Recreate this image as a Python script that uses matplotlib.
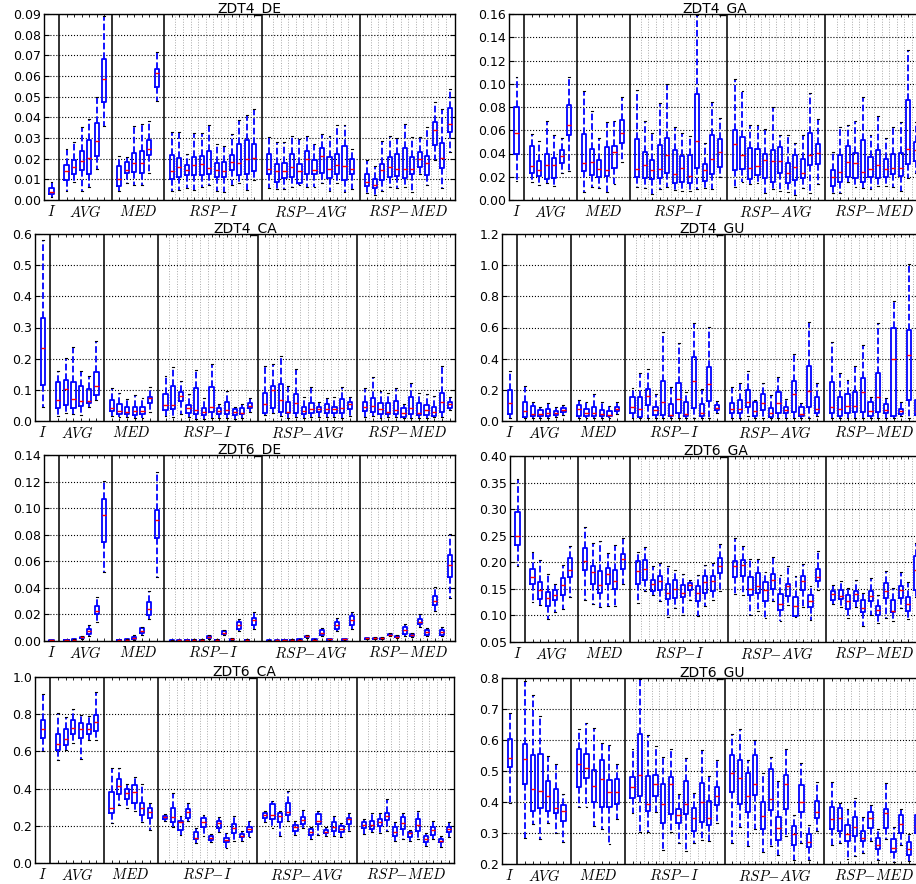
import numpy as np
import matplotlib
matplotlib.use('Agg')
import matplotlib.pyplot as plt

plt.rcParams['font.family'] = ['DejaVu Sans']
plt.rcParams['mathtext.fontset'] = 'cm'

# box statistics: [whislo, q1, median, q3, whishi]
# order: I (1), AVG (6), MED (6), RSP-I (12), RSP-AVG (12), RSP-MED (12)
zdt4_de = [
    [0.0016, 0.0027, 0.0040, 0.0056, 0.0088],
    [0.0045, 0.0096, 0.0138, 0.0168, 0.0245], [0.0088, 0.0125, 0.0159, 0.0195, 0.0280],
    [0.0045, 0.0143, 0.0190, 0.0237, 0.0353], [0.0064, 0.0128, 0.0205, 0.0292, 0.0393],
    [0.0152, 0.0215, 0.0287, 0.0373, 0.0497], [0.0360, 0.0476, 0.0585, 0.0680, 0.0890],
    [0.0045, 0.0067, 0.0104, 0.0163, 0.0213], [0.0080, 0.0131, 0.0147, 0.0184, 0.0210],
    [0.0075, 0.0136, 0.0180, 0.0228, 0.0356], [0.0075, 0.0131, 0.0181, 0.0237, 0.0369],
    [0.0133, 0.0216, 0.0248, 0.0288, 0.0380], [0.0480, 0.0548, 0.0614, 0.0633, 0.0715],
    [0.0045, 0.0104, 0.0141, 0.0220, 0.0327], [0.0048, 0.0112, 0.0160, 0.0202, 0.0330],
    [0.0056, 0.0120, 0.0147, 0.0171, 0.0221], [0.0048, 0.0120, 0.0167, 0.0208, 0.0325],
    [0.0064, 0.0120, 0.0176, 0.0212, 0.0325], [0.0072, 0.0125, 0.0157, 0.0237, 0.0365],
    [0.0045, 0.0112, 0.0144, 0.0181, 0.0272], [0.0040, 0.0112, 0.0141, 0.0184, 0.0263],
    [0.0072, 0.0144, 0.0186, 0.0220, 0.0320], [0.0083, 0.0120, 0.0180, 0.0272, 0.0388],
    [0.0048, 0.0125, 0.0199, 0.0288, 0.0409], [0.0096, 0.0139, 0.0202, 0.0272, 0.0439],
    [0.0056, 0.0128, 0.0152, 0.0224, 0.0304], [0.0051, 0.0085, 0.0138, 0.0176, 0.0280],
    [0.0051, 0.0107, 0.0138, 0.0181, 0.0280], [0.0064, 0.0112, 0.0160, 0.0221, 0.0308],
    [0.0075, 0.0080, 0.0138, 0.0176, 0.0296], [0.0064, 0.0128, 0.0197, 0.0236, 0.0311],
    [0.0064, 0.0128, 0.0144, 0.0192, 0.0272], [0.0080, 0.0131, 0.0212, 0.0252, 0.0317],
    [0.0045, 0.0107, 0.0152, 0.0208, 0.0309], [0.0080, 0.0128, 0.0167, 0.0224, 0.0361],
    [0.0037, 0.0099, 0.0165, 0.0261, 0.0364], [0.0051, 0.0125, 0.0152, 0.0200, 0.0248],
    [0.0035, 0.0069, 0.0088, 0.0125, 0.0192], [0.0024, 0.0056, 0.0075, 0.0104, 0.0163],
    [0.0045, 0.0096, 0.0146, 0.0176, 0.0284], [0.0064, 0.0112, 0.0160, 0.0208, 0.0312],
    [0.0056, 0.0117, 0.0152, 0.0224, 0.0301], [0.0064, 0.0107, 0.0149, 0.0253, 0.0369],
    [0.0040, 0.0128, 0.0152, 0.0208, 0.0304], [0.0125, 0.0160, 0.0196, 0.0232, 0.0304],
    [0.0075, 0.0120, 0.0181, 0.0212, 0.0353], [0.0192, 0.0268, 0.0337, 0.0377, 0.0476],
    [0.0056, 0.0155, 0.0205, 0.0276, 0.0441], [0.0232, 0.0329, 0.0369, 0.0446, 0.0537],
]

zdt4_ga = [
    [0.0160, 0.0399, 0.0575, 0.0803, 0.1060],
    [0.0157, 0.0233, 0.0296, 0.0461, 0.0570], [0.0128, 0.0205, 0.0256, 0.0336, 0.0507],
    [0.0148, 0.0177, 0.0299, 0.0399, 0.0678], [0.0122, 0.0185, 0.0299, 0.0364, 0.0558],
    [0.0233, 0.0319, 0.0382, 0.0433, 0.0535], [0.0250, 0.0555, 0.0649, 0.0817, 0.1060],
    [0.0071, 0.0248, 0.0319, 0.0570, 0.0934], [0.0108, 0.0214, 0.0330, 0.0441, 0.0769],
    [0.0105, 0.0199, 0.0265, 0.0347, 0.0532], [0.0071, 0.0205, 0.0256, 0.0456, 0.0675],
    [0.0134, 0.0279, 0.0413, 0.0464, 0.0683], [0.0327, 0.0490, 0.0578, 0.0689, 0.0883],
    [0.0108, 0.0199, 0.0270, 0.0527, 0.0945], [0.0100, 0.0185, 0.0305, 0.0413, 0.0678],
    [0.0051, 0.0177, 0.0262, 0.0342, 0.0578], [0.0091, 0.0191, 0.0270, 0.0473, 0.0831],
    [0.0108, 0.0228, 0.0390, 0.0530, 0.0996], [0.0085, 0.0142, 0.0222, 0.0433, 0.0632],
    [0.0077, 0.0157, 0.0279, 0.0379, 0.0578], [0.0077, 0.0148, 0.0208, 0.0384, 0.0550],
    [0.0091, 0.0276, 0.0510, 0.0911, 0.1590], [0.0100, 0.0162, 0.0256, 0.0313, 0.0490],
    [0.0097, 0.0222, 0.0356, 0.0561, 0.0840], [0.0194, 0.0285, 0.0413, 0.0527, 0.0706],
    [0.0108, 0.0262, 0.0484, 0.0598, 0.1039], [0.0157, 0.0270, 0.0384, 0.0541, 0.0940],
    [0.0137, 0.0177, 0.0276, 0.0450, 0.0641], [0.0148, 0.0219, 0.0293, 0.0441, 0.0649],
    [0.0063, 0.0185, 0.0347, 0.0393, 0.0612], [0.0091, 0.0157, 0.0333, 0.0433, 0.0797],
    [0.0080, 0.0233, 0.0336, 0.0456, 0.0561], [0.0071, 0.0148, 0.0233, 0.0322, 0.0555],
    [0.0043, 0.0171, 0.0285, 0.0384, 0.0490], [0.0100, 0.0185, 0.0236, 0.0353, 0.0555],
    [0.0063, 0.0299, 0.0384, 0.0578, 0.0919], [0.0137, 0.0307, 0.0404, 0.0478, 0.0698],
    [0.0063, 0.0120, 0.0199, 0.0262, 0.0413], [0.0063, 0.0157, 0.0242, 0.0384, 0.0626],
    [0.0157, 0.0199, 0.0327, 0.0464, 0.0641], [0.0108, 0.0191, 0.0319, 0.0404, 0.0683],
    [0.0100, 0.0157, 0.0242, 0.0518, 0.0883], [0.0091, 0.0194, 0.0265, 0.0370, 0.0561],
    [0.0122, 0.0185, 0.0305, 0.0427, 0.0726], [0.0120, 0.0199, 0.0270, 0.0356, 0.0535],
    [0.0108, 0.0222, 0.0279, 0.0399, 0.0632], [0.0080, 0.0205, 0.0276, 0.0404, 0.0669],
    [0.0185, 0.0313, 0.0441, 0.0863, 0.1287], [0.0228, 0.0333, 0.0433, 0.0498, 0.0669],
]

zdt4_ca = [
    [0.046, 0.116, 0.234, 0.332, 0.582],
    [0.017, 0.0407, 0.0675, 0.124, 0.159], [0.027, 0.0514, 0.102, 0.132, 0.2015],
    [0.021, 0.0407, 0.0707, 0.124, 0.237], [0.019, 0.0482, 0.0654, 0.1125, 0.162],
    [0.044, 0.0568, 0.0643, 0.103, 0.1447], [0.0675, 0.0836, 0.1125, 0.156, 0.257],
    [0.017, 0.0332, 0.0429, 0.0675, 0.107], [0.014, 0.0214, 0.0322, 0.0547, 0.089],
    [0.014, 0.0236, 0.030, 0.044, 0.0707], [0.0107, 0.0193, 0.0322, 0.046, 0.0836],
    [0.0107, 0.0214, 0.0332, 0.044, 0.075], [0.030, 0.0568, 0.075, 0.078, 0.108],
    [0.016, 0.0354, 0.0514, 0.0868, 0.1458], [0.014, 0.0375, 0.0514, 0.1125, 0.1747],
    [0.0225, 0.0643, 0.0815, 0.0922, 0.1297], [0.0118, 0.0246, 0.0429, 0.0514, 0.0868],
    [0.0054, 0.0225, 0.0354, 0.105, 0.163], [0.0054, 0.0193, 0.030, 0.0407, 0.0729],
    [0.0107, 0.0279, 0.044, 0.108, 0.182], [0.0086, 0.0225, 0.0332, 0.0407, 0.0536],
    [0.0086, 0.0225, 0.0354, 0.0622, 0.0965], [0.0064, 0.0193, 0.030, 0.0386, 0.046],
    [0.0086, 0.0225, 0.0268, 0.0429, 0.0536], [0.030, 0.0407, 0.0482, 0.0568, 0.075],
    [0.0193, 0.0268, 0.0536, 0.089, 0.1768], [0.0268, 0.0429, 0.0997, 0.1136, 0.182],
    [0.017, 0.030, 0.0675, 0.119, 0.209], [0.0107, 0.0246, 0.030, 0.060, 0.1136],
    [0.014, 0.0268, 0.0589, 0.0868, 0.1672], [0.0107, 0.0214, 0.0322, 0.044, 0.076],
    [0.014, 0.0246, 0.0386, 0.0568, 0.110], [0.014, 0.0279, 0.0386, 0.046, 0.0622],
    [0.014, 0.0246, 0.0386, 0.0557, 0.0729], [0.014, 0.0246, 0.0375, 0.046, 0.076],
    [0.0086, 0.0246, 0.0407, 0.0697, 0.110], [0.016, 0.0386, 0.0547, 0.060, 0.076],
    [0.014, 0.0332, 0.045, 0.0622, 0.105], [0.016, 0.030, 0.0482, 0.075, 0.1415],
    [0.0107, 0.0225, 0.0386, 0.0568, 0.0965], [0.0129, 0.0236, 0.030, 0.0568, 0.0911],
    [0.0118, 0.0214, 0.0343, 0.0643, 0.107], [0.0086, 0.014, 0.0268, 0.0407, 0.0536],
    [0.0086, 0.0214, 0.0407, 0.076, 0.121], [0.0086, 0.0193, 0.0268, 0.0568, 0.089],
    [0.0107, 0.0193, 0.0354, 0.052, 0.0857], [0.0118, 0.016, 0.030, 0.046, 0.080],
    [0.0118, 0.030, 0.060, 0.089, 0.178], [0.0354, 0.0407, 0.0536, 0.0622, 0.078],
]

zdt4_gu = [
    [0.018, 0.044, 0.1144, 0.196, 0.318],
    [0.018, 0.0246, 0.061, 0.121, 0.2257], [0.018, 0.029, 0.046, 0.0973, 0.125],
    [0.018, 0.029, 0.044, 0.0674, 0.093], [0.018, 0.029, 0.0503, 0.076, 0.1144],
    [0.0246, 0.0396, 0.0503, 0.061, 0.089], [0.0396, 0.0567, 0.0717, 0.0866, 0.1037],
    [0.018, 0.0332, 0.076, 0.0995, 0.1316], [0.018, 0.0332, 0.0545, 0.076, 0.125],
    [0.018, 0.029, 0.0503, 0.0888, 0.172], [0.018, 0.029, 0.044, 0.0674, 0.125],
    [0.018, 0.029, 0.0396, 0.061, 0.097], [0.046, 0.061, 0.078, 0.093, 0.121],
    [0.018, 0.0503, 0.0888, 0.157, 0.211], [0.018, 0.0246, 0.076, 0.153, 0.307],
    [0.018, 0.0995, 0.1636, 0.2064, 0.333], [0.018, 0.0396, 0.0674, 0.093, 0.172],
    [0.018, 0.0396, 0.123, 0.2535, 0.570], [0.018, 0.029, 0.0396, 0.108, 0.215],
    [0.018, 0.0503, 0.140, 0.243, 0.4995], [0.018, 0.029, 0.044, 0.125, 0.183],
    [0.018, 0.0824, 0.2535, 0.4096, 0.628], [0.018, 0.0332, 0.0545, 0.108, 0.2064],
    [0.018, 0.129, 0.2385, 0.3455, 0.602], [0.0503, 0.0717, 0.0824, 0.1037, 0.129],
    [0.018, 0.0503, 0.076, 0.1144, 0.221], [0.018, 0.0503, 0.076, 0.136, 0.247],
    [0.029, 0.0888, 0.121, 0.200, 0.322], [0.018, 0.0332, 0.065, 0.125, 0.136],
    [0.018, 0.0717, 0.1187, 0.172, 0.243], [0.018, 0.0246, 0.0503, 0.0824, 0.168],
    [0.018, 0.0503, 0.1187, 0.1855, 0.2855], [0.018, 0.0503, 0.0674, 0.0888, 0.142],
    [0.018, 0.0567, 0.172, 0.258, 0.431], [0.018, 0.029, 0.044, 0.0888, 0.1187],
    [0.018, 0.0888, 0.1936, 0.356, 0.638], [0.029, 0.0503, 0.076, 0.157, 0.247],
    [0.018, 0.0503, 0.0888, 0.249, 0.506], [0.018, 0.0332, 0.078, 0.157, 0.307],
    [0.018, 0.0503, 0.097, 0.174, 0.260], [0.018, 0.0567, 0.097, 0.183, 0.350],
    [0.018, 0.0567, 0.1855, 0.275, 0.489], [0.018, 0.029, 0.065, 0.125, 0.157],
    [0.018, 0.0567, 0.151, 0.307, 0.628], [0.018, 0.0503, 0.0717, 0.110, 0.146],
    [0.018, 0.030, 0.399, 0.596, 0.771], [0.029, 0.044, 0.061, 0.076, 0.125],
    [0.018, 0.136, 0.4245, 0.585, 1.008], [0.029, 0.040, 0.061, 0.136, 0.180],
]

zdt6_de = [
    [0.0001, 0.0003, 0.0005, 0.0007, 0.0010],
    [0.0002, 0.0004, 0.0005, 0.0007, 0.0010], [0.0005, 0.0008, 0.0010, 0.0012, 0.0016],
    [0.0015, 0.0022, 0.0027, 0.0032, 0.0040], [0.0037, 0.0055, 0.0072, 0.0092, 0.0117],
    [0.0144, 0.0200, 0.0224, 0.0262, 0.0331], [0.0523, 0.0742, 0.0949, 0.1071, 0.1208],
    [0.0002, 0.0004, 0.0005, 0.0007, 0.0010], [0.0005, 0.0008, 0.0010, 0.0013, 0.0018],
    [0.0010, 0.0017, 0.0025, 0.0030, 0.0047], [0.0045, 0.0057, 0.0075, 0.0095, 0.0107],
    [0.0164, 0.0199, 0.0244, 0.0294, 0.0376], [0.0481, 0.0775, 0.0909, 0.0986, 0.1273],
    [0.0001, 0.0002, 0.0003, 0.0004, 0.0006], [0.0001, 0.0003, 0.0004, 0.0005, 0.0007],
    [0.0002, 0.0004, 0.0005, 0.0006, 0.0009], [0.0004, 0.0007, 0.0009, 0.0011, 0.0015],
    [0.0003, 0.0006, 0.0008, 0.0010, 0.0013], [0.0012, 0.0022, 0.0030, 0.0037, 0.0048],
    [0.0003, 0.0006, 0.0008, 0.0010, 0.0013], [0.0042, 0.0050, 0.0062, 0.0072, 0.0085],
    [0.0006, 0.0009, 0.0012, 0.0015, 0.0020], [0.0075, 0.0092, 0.0117, 0.0142, 0.0167],
    [0.0003, 0.0006, 0.0008, 0.0010, 0.0013], [0.0092, 0.0117, 0.0155, 0.0175, 0.0222],
    [0.0001, 0.0002, 0.0003, 0.0004, 0.0006], [0.0001, 0.0003, 0.0004, 0.0005, 0.0007],
    [0.0003, 0.0005, 0.0006, 0.0007, 0.0010], [0.0004, 0.0006, 0.0008, 0.0010, 0.0013],
    [0.0005, 0.0008, 0.0010, 0.0012, 0.0016], [0.0022, 0.0030, 0.0035, 0.0040, 0.0048],
    [0.0005, 0.0008, 0.0010, 0.0012, 0.0016], [0.0035, 0.0047, 0.0062, 0.0080, 0.0100],
    [0.0006, 0.0010, 0.0012, 0.0014, 0.0018], [0.0077, 0.0092, 0.0117, 0.0142, 0.0172],
    [0.0006, 0.0010, 0.0012, 0.0014, 0.0018], [0.0092, 0.0117, 0.0155, 0.0185, 0.0217],
    [0.0012, 0.0016, 0.0019, 0.0022, 0.0026], [0.0012, 0.0016, 0.0019, 0.0023, 0.0028],
    [0.0013, 0.0017, 0.0020, 0.0023, 0.0027], [0.0035, 0.0043, 0.0048, 0.0053, 0.0060],
    [0.0022, 0.0028, 0.0032, 0.0036, 0.0042], [0.0037, 0.0055, 0.0080, 0.0105, 0.0125],
    [0.0032, 0.0040, 0.0045, 0.0050, 0.0058], [0.0105, 0.0125, 0.0142, 0.0167, 0.0200],
    [0.0037, 0.0047, 0.0067, 0.0085, 0.0100], [0.0224, 0.0274, 0.0299, 0.0336, 0.0406],
    [0.0035, 0.0047, 0.0067, 0.0085, 0.0105], [0.0324, 0.0480, 0.0575, 0.0650, 0.0804],
]

zdt6_ga = [
    [0.1934, 0.2327, 0.2495, 0.2950, 0.3570],
    [0.1248, 0.1597, 0.1722, 0.1878, 0.2190], [0.1205, 0.1317, 0.1485, 0.1628, 0.2034],
    [0.0924, 0.1173, 0.1329, 0.1441, 0.1784], [0.1061, 0.1298, 0.1392, 0.1473, 0.1597],
    [0.1130, 0.1379, 0.1566, 0.1703, 0.1953], [0.1348, 0.1716, 0.1859, 0.2077, 0.2314],
    [0.1298, 0.1859, 0.2027, 0.2264, 0.2657], [0.1223, 0.1597, 0.1815, 0.1934, 0.2358],
    [0.1161, 0.1423, 0.1579, 0.1840, 0.2408], [0.1173, 0.1597, 0.1784, 0.1890, 0.2183],
    [0.1173, 0.1498, 0.1641, 0.1859, 0.2327], [0.1597, 0.1872, 0.2059, 0.2152, 0.2452],
    [0.1236, 0.1597, 0.1828, 0.2015, 0.2202], [0.1454, 0.1660, 0.1872, 0.2034, 0.2296],
    [0.1379, 0.1454, 0.1591, 0.1660, 0.1921], [0.1279, 0.1485, 0.1653, 0.1734, 0.1984],
    [0.0968, 0.1311, 0.1423, 0.1597, 0.1921], [0.1142, 0.1329, 0.1504, 0.1672, 0.1859],
    [0.0999, 0.1342, 0.1423, 0.1579, 0.1778], [0.1298, 0.1473, 0.1579, 0.1610, 0.1672],
    [0.0986, 0.1279, 0.1423, 0.1547, 0.1765], [0.1186, 0.1423, 0.1622, 0.1747, 0.1953],
    [0.1298, 0.1454, 0.1641, 0.1747, 0.1984], [0.1466, 0.1797, 0.1921, 0.2090, 0.2339],
    [0.1404, 0.1716, 0.1934, 0.2015, 0.2464], [0.1392, 0.1747, 0.1940, 0.2046, 0.2308],
    [0.1017, 0.1392, 0.1498, 0.1716, 0.2059], [0.1092, 0.1423, 0.1560, 0.1797, 0.2059],
    [0.0955, 0.1267, 0.1485, 0.1622, 0.1809], [0.1279, 0.1504, 0.1672, 0.1784, 0.2096],
    [0.0893, 0.1111, 0.1217, 0.1410, 0.1753], [0.1205, 0.1373, 0.1560, 0.1597, 0.1934],
    [0.0974, 0.0986, 0.1186, 0.1348, 0.1734], [0.1155, 0.1473, 0.1653, 0.1747, 0.1971],
    [0.0905, 0.1155, 0.1267, 0.1392, 0.1547], [0.1473, 0.1641, 0.1722, 0.1872, 0.2215],
    [0.1217, 0.1298, 0.1410, 0.1454, 0.1566], [0.1155, 0.1317, 0.1360, 0.1485, 0.1653],
    [0.0943, 0.1124, 0.1279, 0.1379, 0.1516], [0.1155, 0.1279, 0.1410, 0.1454, 0.1660],
    [0.0799, 0.1061, 0.1142, 0.1298, 0.1423], [0.0999, 0.1267, 0.1360, 0.1466, 0.1703],
    [0.0849, 0.0999, 0.1111, 0.1173, 0.1392], [0.0943, 0.1329, 0.1454, 0.1610, 0.1828],
    [0.0893, 0.1061, 0.1092, 0.1286, 0.1516], [0.1142, 0.1329, 0.1473, 0.1547, 0.1809],
    [0.0936, 0.1080, 0.1217, 0.1342, 0.1622], [0.1350, 0.1485, 0.1859, 0.2121, 0.2370],
]

zdt6_ca = [
    [0.602, 0.673, 0.723, 0.771, 0.911],
    [0.554, 0.605, 0.641, 0.696, 0.804], [0.605, 0.632, 0.664, 0.718, 0.784],
    [0.646, 0.691, 0.727, 0.771, 0.830], [0.557, 0.673, 0.718, 0.754, 0.798],
    [0.659, 0.696, 0.723, 0.745, 0.793], [0.659, 0.709, 0.759, 0.798, 0.920],
    [0.214, 0.271, 0.298, 0.382, 0.5125], [0.3125, 0.370, 0.414, 0.450, 0.5125],
    [0.298, 0.346, 0.375, 0.396, 0.427], [0.280, 0.325, 0.382, 0.418, 0.4625],
    [0.218, 0.257, 0.298, 0.325, 0.423], [0.179, 0.241, 0.275, 0.298, 0.325],
    [0.227, 0.236, 0.248, 0.254, 0.266], [0.191, 0.218, 0.245, 0.298, 0.379],
    [0.150, 0.179, 0.218, 0.227, 0.254], [0.227, 0.241, 0.275, 0.293, 0.325],
    [0.107, 0.129, 0.134, 0.164, 0.186], [0.146, 0.191, 0.221, 0.241, 0.257],
    [0.111, 0.123, 0.134, 0.143, 0.155], [0.164, 0.186, 0.2125, 0.227, 0.245],
    [0.080, 0.111, 0.123, 0.134, 0.161], [0.120, 0.161, 0.186, 0.209, 0.254],
    [0.116, 0.1375, 0.146, 0.155, 0.173], [0.1375, 0.164, 0.182, 0.196, 0.227],
    [0.218, 0.241, 0.259, 0.271, 0.280], [0.1875, 0.236, 0.259, 0.316, 0.334],
    [0.146, 0.221, 0.254, 0.268, 0.280], [0.227, 0.259, 0.275, 0.320, 0.3875],
    [0.152, 0.170, 0.191, 0.205, 0.227], [0.186, 0.209, 0.230, 0.245, 0.286],
    [0.129, 0.150, 0.168, 0.182, 0.191], [0.150, 0.209, 0.227, 0.2625, 0.277],
    [0.146, 0.161, 0.168, 0.177, 0.195], [0.146, 0.173, 0.191, 0.223, 0.254],
    [0.1375, 0.168, 0.182, 0.200, 0.2125], [0.170, 0.209, 0.236, 0.241, 0.271],
    [0.155, 0.1875, 0.2036, 0.221, 0.239], [0.164, 0.182, 0.2036, 0.227, 0.268],
    [0.159, 0.200, 0.221, 0.239, 0.271], [0.173, 0.230, 0.254, 0.271, 0.343],
    [0.120, 0.146, 0.168, 0.196, 0.218], [0.129, 0.182, 0.2125, 0.245, 0.271],
    [0.120, 0.1375, 0.159, 0.168, 0.177], [0.129, 0.173, 0.205, 0.236, 0.277],
    [0.089, 0.111, 0.129, 0.143, 0.159], [0.129, 0.150, 0.179, 0.196, 0.227],
    [0.0875, 0.111, 0.120, 0.129, 0.146], [0.1375, 0.164, 0.182, 0.196, 0.221],
]

zdt6_gu = [
    [0.398, 0.513, 0.542, 0.604, 0.688],
    [0.283, 0.457, 0.540, 0.588, 0.789], [0.329, 0.371, 0.441, 0.551, 0.745],
    [0.281, 0.382, 0.436, 0.554, 0.679], [0.3315, 0.372, 0.420, 0.467, 0.548],
    [0.300, 0.366, 0.380, 0.441, 0.524], [0.2706, 0.340, 0.372, 0.390, 0.4246],
    [0.385, 0.449, 0.521, 0.572, 0.636], [0.383, 0.479, 0.511, 0.556, 0.656],
    [0.321, 0.399, 0.451, 0.503, 0.640], [0.312, 0.385, 0.473, 0.537, 0.591],
    [0.265, 0.383, 0.431, 0.4706, 0.585], [0.3455, 0.3925, 0.433, 0.473, 0.524],
    [0.366, 0.412, 0.447, 0.481, 0.572], [0.302, 0.419, 0.487, 0.620, 0.797],
    [0.302, 0.371, 0.3925, 0.4845, 0.617], [0.369, 0.420, 0.457, 0.487, 0.580],
    [0.246, 0.3315, 0.3925, 0.457, 0.5455], [0.302, 0.3615, 0.457, 0.481, 0.572],
    [0.267, 0.3315, 0.358, 0.3765, 0.4246], [0.243, 0.3615, 0.3936, 0.467, 0.543],
    [0.267, 0.305, 0.3476, 0.380, 0.428], [0.278, 0.334, 0.399, 0.460, 0.569],
    [0.275, 0.326, 0.3476, 0.403, 0.483], [0.3315, 0.390, 0.419, 0.449, 0.535],
    [0.267, 0.431, 0.492, 0.551, 0.618], [0.319, 0.3925, 0.478, 0.535, 0.636],
    [0.259, 0.367, 0.419, 0.492, 0.535], [0.313, 0.4225, 0.457, 0.551, 0.601],
    [0.2385, 0.312, 0.355, 0.399, 0.492], [0.257, 0.374, 0.4085, 0.505, 0.5455],
    [0.228, 0.276, 0.3155, 0.353, 0.4685], [0.289, 0.3765, 0.458, 0.487, 0.572],
    [0.212, 0.262, 0.296, 0.323, 0.358], [0.267, 0.369, 0.401, 0.4545, 0.526],
    [0.212, 0.2545, 0.2706, 0.297, 0.326], [0.305, 0.3476, 0.369, 0.404, 0.465],
    [0.262, 0.3134, 0.3455, 0.383, 0.463], [0.267, 0.307, 0.3476, 0.380, 0.396],
    [0.216, 0.275, 0.297, 0.326, 0.3765], [0.2246, 0.291, 0.319, 0.353, 0.412],
    [0.235, 0.273, 0.283, 0.307, 0.351], [0.273, 0.3155, 0.3476, 0.369, 0.390],
    [0.214, 0.248, 0.260, 0.283, 0.312], [0.280, 0.3155, 0.366, 0.3765, 0.462],
    [0.205, 0.2385, 0.251, 0.281, 0.319], [0.262, 0.2995, 0.329, 0.358, 0.3765],
    [0.209, 0.230, 0.248, 0.2695, 0.296], [0.278, 0.2995, 0.321, 0.358, 0.412],
]

group_names = [r'$I$', r'$AVG$', r'$MED$', r'$RSP\!-\!I$', r'$RSP\!-\!AVG$', r'$RSP\!-\!MED$']
group_sizes = [1, 6, 6, 12, 12, 12]

# x positions: one empty slot between groups holds the separator line
positions, separators, label_pos, pair_lines = [], [], [], []
x = 1
for gi, n in enumerate(group_sizes):
    xs = list(range(x, x + n))
    positions += xs
    label_pos.append((xs[0] + xs[-1]) / 2.0)
    if n == 12:
        pair_lines += [v + 0.5 for v in xs[:-1]]
    x += n
    if gi < len(group_sizes) - 1:
        separators.append(x)
        x += 1

W, H = 916, 884
fig = plt.figure(figsize=(W / 100.0, H / 100.0), dpi=100)

# name, data, pixel box (left, top, right, bottom), y range, y step, label format
panels = [
    ('ZDT4_DE', zdt4_de, (44, 14, 455, 200), 0.0, 0.09, 0.01, '%.2f'),
    ('ZDT4_GA', zdt4_ga, (509, 14, 921, 200), 0.0, 0.16, 0.02, '%.2f'),
    ('ZDT4_CA', zdt4_ca, (35, 234, 455, 421), 0.0, 0.6, 0.1, '%.1f'),
    ('ZDT4_GU', zdt4_gu, (502, 234, 922, 421), 0.0, 1.2, 0.2, '%.1f'),
    ('ZDT6_DE', zdt6_de, (44, 455, 455, 641), 0.0, 0.14, 0.02, '%.2f'),
    ('ZDT6_GA', zdt6_ga, (510, 456, 921, 642), 0.05, 0.40, 0.05, '%.2f'),
    ('ZDT6_CA', zdt6_ca, (35, 677, 454, 863), 0.0, 1.0, 0.2, '%.1f'),
    ('ZDT6_GU', zdt6_gu, (502, 678, 922, 864), 0.2, 0.8, 0.1, '%.1f'),
]

for name, data, (l, t, r, b), y0, y1, step, fmt in panels:
    ax = fig.add_axes([l / W, 1 - b / H, (r - l) / W, (b - t) / H])
    stats = [dict(whislo=d[0], q1=d[1], med=d[2], q3=d[3], whishi=d[4], fliers=[])
             for d in data]
    ax.bxp(stats, positions=positions, widths=0.55, capwidths=0.25, manage_ticks=False,
           boxprops=dict(color='blue', lw=1.3),
           whiskerprops=dict(color='blue', lw=1.3, ls='--'),
           capprops=dict(color='black', lw=0.8),
           medianprops=dict(color='red', lw=1.0))
    for s in separators:
        ax.axvline(s, color='#222222', lw=1.3, zorder=1)
    for g in pair_lines:
        ax.axvline(g, color='#aaaaaa', lw=0.7, ls=':', zorder=0)
    ax.set_xlim(0, 54.7)
    ax.set_ylim(y0, y1)
    yt = np.round(np.arange(y0, y1 + step / 2, step), 3)
    ax.set_yticks(yt)
    ax.set_yticklabels([fmt % v for v in yt], fontsize=9)
    ax.yaxis.grid(True, ls=':', color='black', lw=0.8)
    ax.set_xticks(label_pos)
    ax.set_xticklabels(group_names, fontsize=10.5)
    ax.set_xticks(positions, minor=True)
    ax.tick_params(axis='x', which='major', length=0, pad=3)
    ax.tick_params(axis='x', which='minor', direction='in', top=True, bottom=True, length=2.5)
    ax.tick_params(axis='y', direction='in', left=True, right=True, length=3.5, pad=2)
    for sp in ax.spines.values():
        sp.set_linewidth(1.0)
    ax.set_title(name, fontsize=10, pad=1.0)

fig.savefig('out.png', dpi=100)
